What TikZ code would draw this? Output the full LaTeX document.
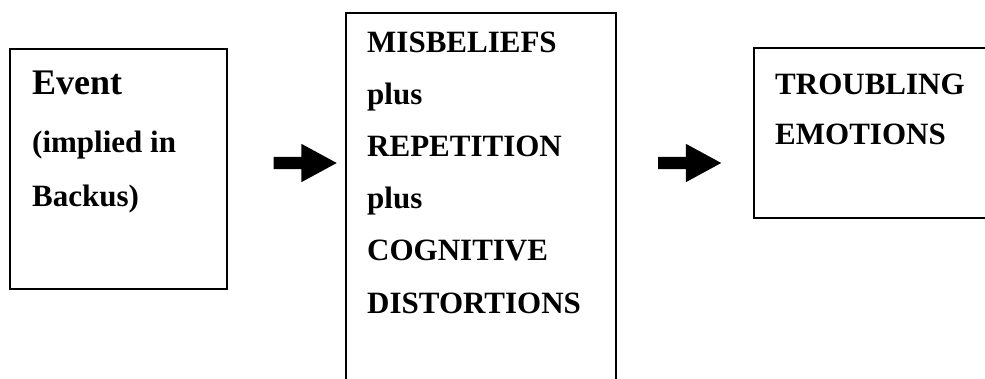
\documentclass[tikz,border=0pt]{standalone}
\usepackage{fontspec}
\setmainfont{Liberation Serif}
\usetikzlibrary{shapes.arrows}
\tikzset{
  box/.style={draw=black, line width=1.4pt, anchor=north west, inner sep=0pt, outer sep=0pt},
  txt/.style={anchor=base west, inner sep=0pt, font=\bfseries\fontsize{31}{36}\selectfont},
  bigtxt/.style={anchor=base west, inner sep=0pt, font=\bfseries\fontsize{36}{40}\selectfont},
  fatarrow/.style={single arrow, fill=black, draw=none, inner xsep=0pt, inner ysep=6pt, outer sep=0pt,
    minimum width=38pt, minimum height=63pt, single arrow head extend=13pt,
    single arrow tip angle=57}
}
\begin{document}
\begin{tikzpicture}[x=1pt,y=-1pt]
\useasboundingbox (0,0) rectangle (985,379);
\clip (0,0) rectangle (985,379);
% boxes
\node[box, minimum width=217pt, minimum height=240pt] (b1) at (10,49) {};
\node[box, minimum width=270pt, minimum height=420pt] (b2) at (346,13) {};
\node[box, minimum width=260pt, minimum height=170pt] (b3) at (754,48) {};
% texts box 1
\node[bigtxt] (t11) at (32,95) {Event};
\node[txt] (t12) at (32,153) {(implied in};
\node[txt] (t13) at (32,207) {Backus)};
% texts box 2
\node[txt] (t21) at (367,53) {MISBELIEFS};
\node[txt] (t22) at (367,105) {plus};
\node[txt] (t23) at (367,157) {REPETITION};
\node[txt] (t24) at (367,209) {plus};
\node[txt] (t25) at (367,261) {COGNITIVE};
\node[txt] (t26) at (367,313) {DISTORTIONS};
% texts box 3
\node[txt] (t31) at (775,95) {TROUBLING};
\node[txt] (t32) at (775,145) {EMOTIONS};
% arrows
\node[fatarrow] (a1) at (299.5,163) {};
\node[fatarrow] (a2) at (684,163) {};
\end{tikzpicture}
\end{document}
